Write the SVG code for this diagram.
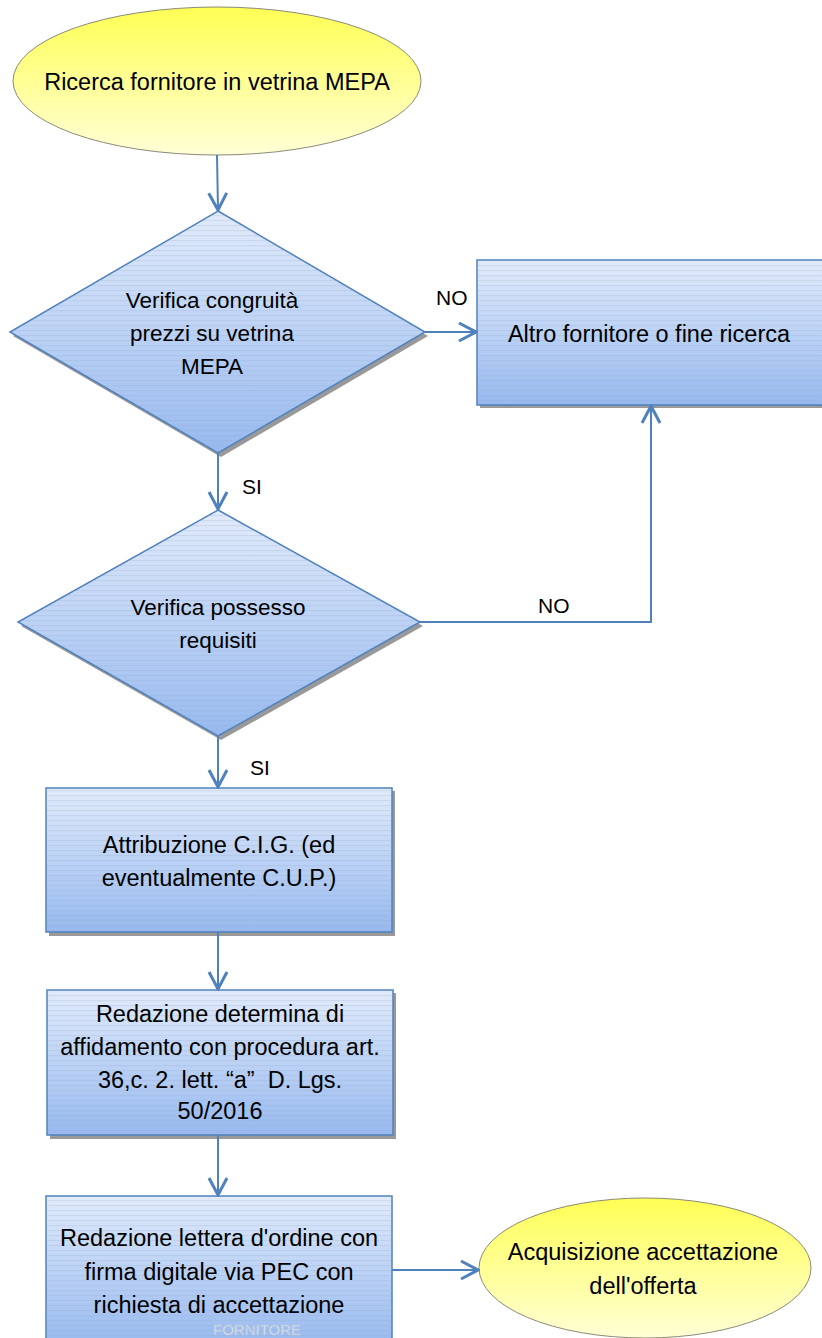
<svg xmlns="http://www.w3.org/2000/svg" width="822" height="1338" viewBox="0 0 822 1338">
<defs>
  <linearGradient id="gBlue" x1="0" y1="0" x2="0" y2="1">
    <stop offset="0" stop-color="#e2ebfb"/>
    <stop offset="1" stop-color="#97b9ef"/>
  </linearGradient>
  <linearGradient id="gYel" x1="0" y1="0" x2="0" y2="1">
    <stop offset="0" stop-color="#ffff55"/>
    <stop offset="1" stop-color="#ffffd6"/>
  </linearGradient>
  <pattern id="stripes" width="6" height="5" patternUnits="userSpaceOnUse">
    <rect x="0" y="0" width="6" height="1.2" fill="#8fa6c8" opacity="0.22"/>
  </pattern>
  <marker id="arr" markerUnits="userSpaceOnUse" viewBox="-20 -12 22 24" refX="0" refY="0" markerWidth="22" markerHeight="24" orient="auto">
    <path d="M-17,-9 L0,0 L-17,9" fill="none" stroke="#4f81bd" stroke-width="3"/>
  </marker>
  <style>
    .shape{stroke:#4f81bd;stroke-width:1.5;fill:url(#gBlue)}
    .str{fill:url(#stripes);stroke:none}
    .shadow{fill:#999;stroke:none}
    .ell{fill:url(#gYel);stroke:#8a8a78;stroke-width:1}
    .t{font-family:"Liberation Sans",Arial,sans-serif;font-size:23.5px;fill:#000;text-anchor:middle;white-space:pre}
    .dt{font-size:22.5px}
    .lbl{font-family:"Liberation Sans",Arial,sans-serif;font-size:21px;fill:#000}
    .con{stroke:#4f81bd;stroke-width:2;fill:none}
  </style>
</defs>
<rect width="822" height="1338" fill="#fff"/>

<g id="start">
  <ellipse class="ell" cx="217" cy="81" rx="204" ry="74"/>
  <text class="t" x="217" y="90">Ricerca fornitore in vetrina MEPA</text>
</g>

<g id="d1">
  <polygon class="shadow" points="221,215 428,336 221,457 13,336"/>
  <polygon class="shape" points="218,211 425,332 218,453 10,332"/>
  <polygon class="str" points="218,211 425,332 218,453 10,332"/>
  <text class="t dt" x="212" y="308">Verifica congruità</text>
  <text class="t dt" x="212" y="341">prezzi su vetrina</text>
  <text class="t dt" x="212" y="374">MEPA</text>
</g>

<g id="altro">
  <rect class="shadow" x="480" y="263" width="345" height="145"/>
  <rect class="shape" x="477" y="260" width="347" height="145"/>
  <rect class="str" x="477" y="260" width="347" height="145"/>
  <text class="t" x="649" y="342" font-size="24.5">Altro fornitore o fine ricerca</text>
</g>

<g id="d2">
  <polygon class="shadow" points="221,514 423,626 221,740 21,626"/>
  <polygon class="shape" points="218,510 420,622 218,736 18,622"/>
  <polygon class="str" points="218,510 420,622 218,736 18,622"/>
  <text class="t dt" x="218" y="615">Verifica possesso</text>
  <text class="t dt" x="218" y="648">requisiti</text>
</g>

<g id="cig">
  <rect class="shadow" x="49" y="791" width="346" height="145"/>
  <rect class="shape" x="46" y="788" width="346" height="144"/>
  <rect class="str" x="46" y="788" width="346" height="144"/>
  <text class="t" x="219" y="853">Attribuzione C.I.G. (ed</text>
  <text class="t" x="219" y="886">eventualmente C.U.P.)</text>
</g>

<g id="determina">
  <rect class="shadow" x="50" y="993" width="346" height="146"/>
  <rect class="shape" x="47" y="990" width="346" height="145"/>
  <rect class="str" x="47" y="990" width="346" height="145"/>
  <text class="t" x="220" y="1022">Redazione determina di</text>
  <text class="t" x="220" y="1055">affidamento con procedura art.</text>
  <text class="t" x="220" y="1088" xml:space="preserve">36,c. 2. lett. “a”  D. Lgs.</text>
  <text class="t" x="220" y="1119">50/2016</text>
</g>

<g id="lettera">
  <rect class="shape" x="46" y="1196" width="346" height="150"/>
  <rect class="str" x="46" y="1196" width="346" height="150"/>
  <text class="t" x="219" y="1246">Redazione lettera d'ordine con</text>
  <text class="t" x="219" y="1280">firma digitale via PEC con</text>
  <text class="t" x="219" y="1313">richiesta di accettazione</text>
  <text x="257" y="1335" font-family="Liberation Sans,Arial,sans-serif" font-size="15" fill="#e6edf8" stroke="#b3c1d8" stroke-width="0.6" text-anchor="middle">FORNITORE</text>
</g>

<g id="end">
  <ellipse class="ell" cx="645" cy="1268" rx="166" ry="70"/>
  <text class="t" x="643" y="1260">Acquisizione accettazione</text>
  <text class="t" x="643" y="1294">dell'offerta</text>
</g>

<g id="connectors">
  <line class="con" x1="217" y1="155" x2="218" y2="210" marker-end="url(#arr)"/>
  <line class="con" x1="425" y1="332" x2="476" y2="332" marker-end="url(#arr)"/>
  <line class="con" x1="218" y1="453" x2="218" y2="509" marker-end="url(#arr)"/>
  <polyline class="con" points="420,622 651,622 651,406" marker-end="url(#arr)"/>
  <line class="con" x1="218" y1="736" x2="218" y2="787" marker-end="url(#arr)"/>
  <line class="con" x1="218" y1="932" x2="218" y2="989" marker-end="url(#arr)"/>
  <line class="con" x1="218" y1="1135" x2="218" y2="1195" marker-end="url(#arr)"/>
  <line class="con" x1="392" y1="1270" x2="478" y2="1270" marker-end="url(#arr)"/>
  <text class="lbl" x="436" y="305">NO</text>
  <text class="lbl" x="242" y="494">SI</text>
  <text class="lbl" x="538" y="613">NO</text>
  <text class="lbl" x="250" y="775">SI</text>
</g>
</svg>
